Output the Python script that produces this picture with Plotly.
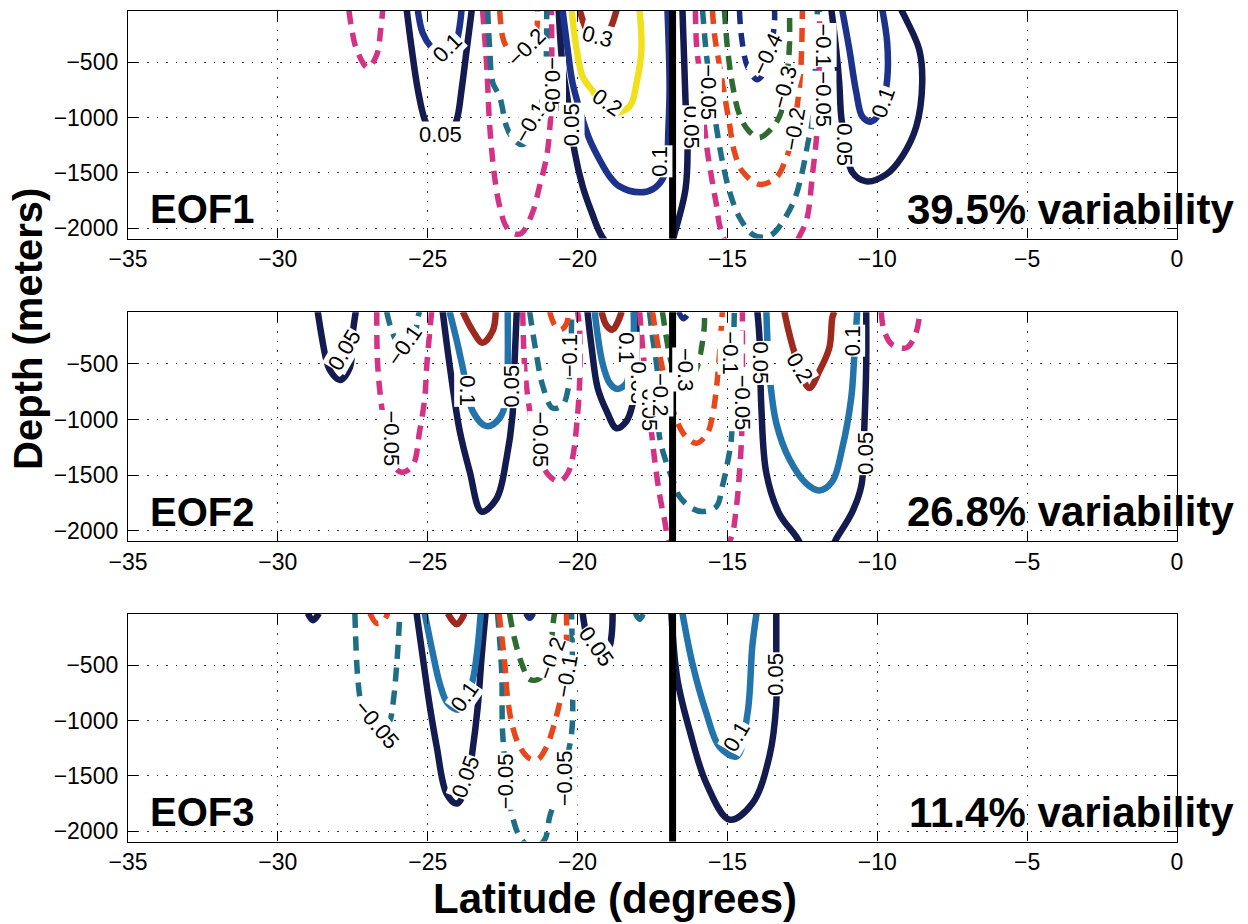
import plotly.graph_objects as go

# ---------------------------------------------------------------- axes ----
lat_ticks = [-35, -30, -25, -20, -15, -10, -5, 0]
depth_ticks = [-500, -1000, -1500, -2000]
lat_range = [-35, 0]
depth_range = [-2093, -36]
front_lat = -16.83  # reference latitude marked in every panel

eof_names = ["EOF1", "EOF2", "EOF3"]
variability = [39.5, 26.8, 11.4]

# ------------------------------------------------------ EOF1 contours ----
eof1_a_lat = [-27.63, -27.53, -27.37, -27.0, -26.7, -26.57, -26.5]
eof1_a_dep = [-30, -209, -389, -551, -434, -209, -30]
eof1_b_lat = [-25.70, -25.53, -25.33, -25.1, -24.83, -24.57, -24.3, -24.03, -23.87, -23.7, -23.53]
eof1_b_dep = [-30, -389, -749, -1020, -1163, -1208, -1172, -1020, -749, -389, -30]
eof1_c_lat = [-25.33, -25.17, -24.87, -24.53, -24.2, -24.0, -23.87]
eof1_c_dep = [-30, -236, -371, -452, -407, -272, -30]
eof1_d_lat = [-23.17, -23.03, -22.93, -22.77, -22.6, -22.37, -22.1, -21.87, -21.5, -21.27, -21.03, -20.93, -20.87, -20.87]
eof1_d_dep = [-30, -542, -1083, -1533, -1803, -1990, -2050, -2045, -1856, -1622, -1352, -1109, -839, -30]
eof1_e_lat = [-23.0, -22.93, -22.83, -22.6, -22.37, -22.2, -21.87, -21.5, -21.17, -21.07, -21.03]
eof1_e_dep = [-30, -389, -686, -812, -1083, -1172, -1244, -1154, -839, -632, -30]
eof1_f_lat = [-22.6, -22.5, -22.37, -21.93, -21.53, -21.37, -21.33]
eof1_f_dep = [-30, -274, -364, -500, -380, -220, -30]
eof1_g_lat = [-20.63, -20.5, -20.33, -20.1, -19.83, -19.53, -19.17, -18.4, -17.6, -17.0, -16.77, -16.4, -16.33, -16.4, -16.5]
eof1_g_dep = [-30, -542, -839, -1307, -1622, -1856, -2081, -2300, -2350, -2250, -2054, -1649, -1289, -839, -30]
eof1_h_lat = [-20.5, -20.33, -20.17, -19.93, -19.6, -19.27, -18.93, -18.6, -17.93, -17.5, -17.17, -17.03, -16.97, -16.93, -17.0]
eof1_h_dep = [-30, -389, -686, -929, -1199, -1379, -1532, -1622, -1676, -1649, -1559, -1424, -1109, -731, -30]
eof1_i_lat = [-20.2, -20.03, -19.83, -19.53, -18.93, -18.27, -18.03, -17.87, -17.93]
eof1_i_dep = [-30, -389, -632, -749, -957, -902, -686, -389, -30]
eof1_j_lat = [-19.93, -19.7, -19.33, -18.93, -18.7]
eof1_j_dep = [-30, -209, -344, -209, -30]
eof1_k_lat = [-16.07, -16.03, -15.93, -15.7, -15.53, -15.37, -15.17, -13.93, -12.53, -12.33, -12.17, -12.0, -11.93, -11.93]
eof1_k_dep = [-30, -353, -596, -1244, -1541, -1784, -2054, -2600, -2036, -1892, -1532, -1083, -326, -30]
eof1_l_lat = [-15.83, -15.7, -15.53, -15.2, -14.93, -14.6, -14.17, -13.83, -13.5, -12.83, -12.5, -12.33, -12.17, -12.03, -12.0]
eof1_l_dep = [-30, -434, -794, -1352, -1667, -1901, -2054, -2081, -2054, -1784, -1487, -1244, -1037, -281, -30]
eof1_m_lat = [-15.5, -15.43, -15.27, -15.1, -14.93, -14.77, -14.5, -13.93, -13.37, -13.03, -12.83, -12.7, -12.6, -12.53, -12.5]
eof1_m_dep = [-30, -254, -524, -794, -1064, -1307, -1487, -1604, -1541, -1361, -1181, -947, -731, -434, -30]
eof1_n_lat = [-15.1, -15.0, -14.83, -14.6, -14.27, -13.93, -13.5, -13.2, -13.0, -12.93, -12.93]
eof1_n_dep = [-30, -371, -704, -974, -1127, -1181, -1091, -947, -587, -344, -30]
eof1_o_lat = [-14.6, -14.53, -14.33, -14.0, -13.67, -13.43, -13.43]
eof1_o_dep = [-30, -272, -542, -659, -524, -137, -30]
eof1_p_lat = [-11.53, -11.37, -11.27, -11.2, -11.03, -10.83, -10.37, -9.7, -9.17, -8.7, -8.5, -8.6, -9.03, -9.2]
eof1_p_dep = [-30, -389, -686, -1001, -1289, -1496, -1577, -1514, -1352, -1083, -686, -389, -119, -30]
eof1_q_lat = [-11.17, -10.93, -10.7, -10.5, -10.2, -9.87, -9.67, -9.67, -9.83]
eof1_q_dep = [-30, -389, -776, -992, -1037, -929, -659, -326, -30]

# ------------------------------------------------------ EOF2 contours ----
eof2_a_lat = [-28.67, -28.53, -28.4, -28.27, -27.93, -27.6, -27.5, -27.4]
eof2_a_dep = [-30, -265, -446, -554, -645, -536, -220, -30]
eof2_b_lat = [-26.7, -26.67, -26.53, -26.37, -26.2, -25.87, -25.5, -25.27, -25.1, -25.03, -24.93, -24.87]
eof2_b_dep = [-30, -509, -898, -1169, -1395, -1476, -1413, -1106, -808, -509, -202, -30]
eof2_c_lat = [-26.37, -26.2, -25.93, -25.67, -25.43, -25.33, -25.27]
eof2_c_dep = [-30, -202, -355, -428, -265, -84, -30]
eof2_d_lat = [-24.5, -24.27, -23.93, -23.6, -23.2, -22.7, -22.37, -22.17, -22.1, -22.03]
eof2_d_dep = [-30, -509, -1106, -1467, -1829, -1711, -1350, -961, -473, -30]
eof2_e_lat = [-24.27, -24.03, -23.83, -23.5, -23.03, -22.6, -22.37, -22.33, -22.33]
eof2_e_dep = [-30, -292, -536, -925, -1060, -988, -807, -509, -30]
eof2_f_lat = [-23.83, -23.5, -23.17, -22.83, -22.73]
eof2_f_dep = [-30, -202, -310, -202, -30]
eof2_g_lat = [-21.83, -21.77, -21.67, -21.5, -21.27, -20.93, -20.6, -20.33, -20.17, -20.03, -19.93, -19.93, -20.0]
eof2_g_dep = [-30, -509, -780, -1079, -1350, -1512, -1558, -1485, -1350, -1051, -654, -202, -30]
eof2_h_lat = [-21.6, -21.37, -21.17, -20.83, -20.5, -20.33, -20.23, -20.2]
eof2_h_dep = [-30, -419, -690, -898, -871, -744, -446, -30]
eof2_i_lat = [-20.93, -20.77, -20.57, -20.37, -20.3]
eof2_i_dep = [-30, -147, -193, -138, -30]
eof2_j_lat = [-19.67, -19.53, -19.33, -19.03, -18.7, -18.37, -18.17, -18.07, -18.03, -18.07]
eof2_j_dep = [-30, -355, -717, -925, -1079, -1016, -871, -627, -274, -30]
eof2_k_lat = [-19.43, -19.17, -18.93, -18.67, -18.37, -18.27, -18.13, -18.13]
eof2_k_dep = [-30, -491, -672, -726, -672, -518, -247, -30]
eof2_l_lat = [-19.2, -19.03, -18.83, -18.67, -18.53]
eof2_l_dep = [-30, -157, -193, -130, -30]
eof2_m_lat = [-17.93, -17.7, -17.53, -17.43, -17.27, -17.1, -16.93, -15.93, -14.93, -14.7, -14.6, -14.53, -14.5, -14.5, -14.5]
eof2_m_dep = [-30, -726, -1124, -1359, -1666, -1901, -2100, -2435, -2100, -1784, -1485, -1178, -880, -428, -30]
eof2_n_lat = [-17.6, -17.5, -17.33, -17.27, -17.03, -16.83, -16.6, -16.17, -15.83, -15.37, -15.17, -15.0, -14.87, -14.83, -14.8, -14.77]
eof2_n_dep = [-30, -256, -590, -1151, -1395, -1540, -1694, -1802, -1829, -1784, -1603, -1395, -1178, -880, -428, -30]
eof2_o_lat = [-17.5, -17.37, -17.2, -17.0, -16.7, -16.37, -16.03, -15.67, -15.5, -15.37, -15.27, -15.17]
eof2_o_dep = [-30, -256, -500, -735, -1006, -1160, -1214, -1124, -970, -726, -428, -30]
eof2_p_lat = [-17.17, -17.03, -16.87, -16.6, -16.27, -16.03, -15.87, -15.77, -15.77]
eof2_p_dep = [-30, -274, -491, -672, -672, -545, -364, -156, -30]
eof2_q_lat = [-16.63, -16.47, -16.27]
eof2_q_dep = [-30, -93, -30]
eof2_r_lat = [-14.0, -13.93, -13.87, -13.7, -13.27, -12.7, -12.0, -11.33, -10.83, -10.53, -10.43, -10.37, -10.37]
eof2_r_dep = [-30, -274, -880, -1486, -1848, -2056, -2345, -2056, -1829, -1594, -1051, -509, -30]
eof2_s_lat = [-13.7, -13.6, -13.37, -12.93, -12.37, -11.93, -11.5, -11.17, -10.87, -10.77, -10.67]
eof2_s_dep = [-30, -581, -1033, -1359, -1576, -1639, -1558, -1259, -807, -446, -30]
eof2_t_lat = [-13.1, -13.0, -12.83, -12.6, -12.27, -11.93, -11.6, -11.5, -11.43]
eof2_t_dep = [-30, -156, -337, -536, -717, -563, -355, -84, -30]
eof2_u_lat = [-9.87, -9.77, -9.5, -9.03, -8.77, -8.6, -8.6]
eof2_u_dep = [-30, -202, -328, -355, -265, -84, -30]

# ------------------------------------------------------ EOF3 contours ----
eof3_a_lat = [-29.0, -28.83, -28.63]
eof3_a_dep = [-30, -92, -30]
eof3_b_lat = [-27.43, -27.33, -27.2, -26.93, -26.6, -26.27, -26.17, -26.03, -25.93]
eof3_b_dep = [-30, -627, -871, -1053, -1116, -1007, -871, -482, -30]
eof3_c_lat = [-26.93, -26.7, -26.5, -26.33]
eof3_c_dep = [-30, -120, -102, -30]
eof3_d_lat = [-25.37, -25.17, -24.93, -24.7, -24.37, -24.03, -23.7, -23.5, -23.33, -23.2, -23.07]
eof3_d_dep = [-30, -418, -871, -1234, -1660, -1750, -1596, -1261, -871, -418, -30]
eof3_e_lat = [-25.1, -24.83, -24.6, -24.33, -23.93, -23.53, -23.37, -23.23]
eof3_e_dep = [-30, -391, -663, -844, -899, -663, -418, -30]
eof3_f_lat = [-24.33, -24.03, -23.77]
eof3_f_dep = [-30, -129, -30]
eof3_g_lat = [-22.67, -22.53, -22.5, -22.33, -22.17, -21.93, -21.5, -21.1, -20.93, -20.67, -20.43, -20.2, -20.17, -20.2]
eof3_g_dep = [-30, -572, -1116, -1596, -1868, -2049, -2158, -2077, -1868, -1660, -1415, -1116, -572, -30]
eof3_h_lat = [-22.62, -22.43, -22.33, -22.17, -21.93, -21.6, -21.33, -21.03, -20.83, -20.6, -20.43, -20.37, -20.37]
eof3_h_dep = [-30, -482, -808, -1053, -1234, -1343, -1352, -1234, -1080, -844, -599, -237, -30]
eof3_i_lat = [-22.27, -22.1, -21.83, -21.6, -21.27, -20.93, -20.83, -20.77]
eof3_i_dep = [-30, -264, -509, -627, -618, -418, -147, -30]
eof3_j_lat = [-21.73, -21.6, -21.47]
eof3_j_dep = [-30, -75, -30]
eof3_k_lat = [-19.83, -19.7, -19.53, -19.27, -18.93, -18.83]
eof3_k_dep = [-30, -237, -373, -491, -328, -30]
eof3_l_lat = [-18.07, -17.93, -17.8]
eof3_l_dep = [-30, -84, -30]
eof3_m_lat = [-16.5, -16.17, -15.7, -15.27, -14.7, -14.33, -14.17, -14.03]
eof3_m_dep = [-30, -482, -935, -1234, -1324, -935, -328, -30]
eof3_n_lat = [-16.87, -16.67, -16.27, -15.7, -14.93, -14.17, -13.6, -13.37, -13.37, -13.37]
eof3_n_dep = [-30, -627, -1080, -1569, -1895, -1750, -1324, -844, -328, -30]

# ------------------------------------------------------ contour labels ----
eof1_label_level = [0.05, 0.1, -0.2, -0.1, -0.05, 0.05, 0.3, 0.2, 0.1, 0.05, -0.05, -0.4, -0.3, -0.2, -0.1, -0.05, 0.05, 0.1]
eof1_label_lat = [-24.57, -24.33, -21.7, -21.57, -20.83, -20.2, -19.33, -19.0, -17.27, -16.22, -15.63, -13.67, -13.1, -12.77, -11.8, -11.8, -11.1, -9.8]
eof1_label_dep = [-1155, -371, -371, -1046, -705, -1064, -273, -866, -1397, -1092, -768, -434, -731, -1109, -344, -839, -1244, -866]

eof2_label_level = [0.05, -0.1, -0.05, 0.1, 0.05, -0.05, -0.1, 0.1, 0.05, -0.05, -0.2, -0.3, -0.1, -0.05, 0.05, 0.2, 0.1, 0.05]
eof2_label_lat = [-27.77, -25.77, -26.2, -23.7, -22.2, -21.23, -20.27, -18.37, -18.0, -17.6, -17.25, -16.42, -14.9, -14.5, -13.9, -12.6, -10.83, -10.4]
eof2_label_dep = [-373, -337, -1169, -744, -699, -1178, -428, -355, -672, -853, -780, -554, -400, -853, -491, -536, -292, -1305]

eof3_label_level = [-0.05, 0.1, 0.05, -0.05, -0.2, -0.1, -0.05, 0.05, 0.1, 0.05]
eof3_label_lat = [-26.7, -23.77, -23.73, -22.4, -20.87, -20.37, -20.43, -19.37, -14.7, -13.4]
eof3_label_dep = [-1035, -781, -1506, -1551, -437, -600, -1524, -328, -1143, -582]

# text orientation of each label (degrees, clockwise)
eof1_label_rot = [0, -45, -45, -60, 90, -90, 15, 35, -90, 90, 90, -65, -75, -80, 90, 90, 90, -70]
eof2_label_rot = [-60, -55, 90, 90, -90, 90, -90, 90, 90, 90, 90, 90, 90, 90, 90, 60, -90, -90]
eof3_label_rot = [50, -55, -70, -90, -70, -80, -90, 55, -60, -90]

# ------------------------------------------------------------- styling ----
NAVY = "#141b4e"
BLUE = "#1d328a"
STEEL = "#2274aa"
YELLOW = "#f0e11c"
DKRED = "#9e2a1f"
DKBLUE = "#1b2b7d"
GREEN = "#2e6b30"
RED = "#e8471c"
TEAL = "#1f6e86"
MAGENTA = "#d43284"

panel_colours = [
    {-0.4: DKBLUE, -0.3: GREEN, -0.2: RED, -0.1: TEAL, -0.05: MAGENTA,
     0.05: NAVY, 0.1: BLUE, 0.2: YELLOW, 0.3: DKRED},
    {-0.4: DKBLUE, -0.3: GREEN, -0.2: RED, -0.1: TEAL, -0.05: MAGENTA,
     0.05: NAVY, 0.1: STEEL, 0.2: DKRED},
    {-0.3: DKBLUE, -0.2: GREEN, -0.1: RED, -0.05: TEAL,
     0.05: NAVY, 0.1: STEEL, 0.2: DKRED},
]

panel_curves = [
    [(-0.05, eof1_a_lat, eof1_a_dep), (0.05, eof1_b_lat, eof1_b_dep), (0.1, eof1_c_lat, eof1_c_dep),
     (-0.05, eof1_d_lat, eof1_d_dep), (-0.1, eof1_e_lat, eof1_e_dep), (-0.2, eof1_f_lat, eof1_f_dep),
     (0.05, eof1_g_lat, eof1_g_dep), (0.1, eof1_h_lat, eof1_h_dep), (0.2, eof1_i_lat, eof1_i_dep),
     (0.3, eof1_j_lat, eof1_j_dep), (-0.05, eof1_k_lat, eof1_k_dep), (-0.1, eof1_l_lat, eof1_l_dep),
     (-0.2, eof1_m_lat, eof1_m_dep), (-0.3, eof1_n_lat, eof1_n_dep), (-0.4, eof1_o_lat, eof1_o_dep),
     (0.05, eof1_p_lat, eof1_p_dep), (0.1, eof1_q_lat, eof1_q_dep)],
    [(0.05, eof2_a_lat, eof2_a_dep), (-0.05, eof2_b_lat, eof2_b_dep), (-0.1, eof2_c_lat, eof2_c_dep),
     (0.05, eof2_d_lat, eof2_d_dep), (0.1, eof2_e_lat, eof2_e_dep), (0.2, eof2_f_lat, eof2_f_dep),
     (-0.05, eof2_g_lat, eof2_g_dep), (-0.1, eof2_h_lat, eof2_h_dep), (-0.2, eof2_i_lat, eof2_i_dep),
     (0.05, eof2_j_lat, eof2_j_dep), (0.1, eof2_k_lat, eof2_k_dep), (0.2, eof2_l_lat, eof2_l_dep),
     (-0.05, eof2_m_lat, eof2_m_dep), (-0.1, eof2_n_lat, eof2_n_dep), (-0.2, eof2_o_lat, eof2_o_dep),
     (-0.3, eof2_p_lat, eof2_p_dep), (-0.4, eof2_q_lat, eof2_q_dep), (0.05, eof2_r_lat, eof2_r_dep),
     (0.1, eof2_s_lat, eof2_s_dep), (0.2, eof2_t_lat, eof2_t_dep), (-0.05, eof2_u_lat, eof2_u_dep)],
    [(0.05, eof3_a_lat, eof3_a_dep), (-0.05, eof3_b_lat, eof3_b_dep), (-0.1, eof3_c_lat, eof3_c_dep),
     (0.05, eof3_d_lat, eof3_d_dep), (0.1, eof3_e_lat, eof3_e_dep), (0.2, eof3_f_lat, eof3_f_dep),
     (-0.05, eof3_g_lat, eof3_g_dep), (-0.1, eof3_h_lat, eof3_h_dep), (-0.2, eof3_i_lat, eof3_i_dep),
     (-0.3, eof3_j_lat, eof3_j_dep), (0.05, eof3_k_lat, eof3_k_dep), (-0.05, eof3_l_lat, eof3_l_dep),
     (0.1, eof3_m_lat, eof3_m_dep), (0.05, eof3_n_lat, eof3_n_dep)],
]

panel_labels = [
    (eof1_label_level, eof1_label_lat, eof1_label_dep, eof1_label_rot),
    (eof2_label_level, eof2_label_lat, eof2_label_dep, eof2_label_rot),
    (eof3_label_level, eof3_label_lat, eof3_label_dep, eof3_label_rot),
]

FONT = "Liberation Sans, Arial, Helvetica, sans-serif"
W, H = 1248, 924
ML, MR = 128, 71
panel_domains = [[0.7410, 0.9884], [0.4127, 0.6609], [0.0863, 0.3333]]


def fmt_level(v):
    s = f"{abs(v):g}"
    return ("\u2212" + s) if v < 0 else s


def fmt_tick(v):
    return ("\u2212" + str(abs(v))) if v < 0 else str(v)


fig = go.Figure()
annotations = []

for p in range(3):
    xs = "x" if p == 0 else f"x{p + 1}"
    ys = "y" if p == 0 else f"y{p + 1}"
    cmap = panel_colours[p]

    for level, lats, deps in panel_curves[p]:
        dashed = level < 0
        fig.add_trace(go.Scatter(
            x=lats, y=deps, xaxis=xs, yaxis=ys, mode="lines",
            line=dict(color=cmap[level], width=5.5 if dashed else 6.5,
                      dash="14px,9px" if dashed else "solid",
                      shape="spline", smoothing=1.0),
            hoverinfo="skip", showlegend=False))

    # vertical marker latitude
    fig.add_trace(go.Scatter(
        x=[front_lat, front_lat], y=[-2300, 0], xaxis=xs, yaxis=ys, mode="lines",
        line=dict(color="black", width=7), hoverinfo="skip", showlegend=False))

    levels, lats, deps, rots = panel_labels[p]
    for v, la, de, rot in zip(levels, lats, deps, rots):
        annotations.append(dict(
            x=la, y=de, xref=xs, yref=ys, text=fmt_level(v), showarrow=False,
            textangle=rot, bgcolor="white", borderpad=0,
            font=dict(family=FONT, size=22, color="black")))

    annotations.append(dict(
        x=20 / (W - ML - MR), y=-1830, xref=f"{xs} domain", yref=ys,
        xanchor="left", yanchor="middle", showarrow=False,
        text=f"<b>{eof_names[p]}</b>",
        font=dict(family=FONT, size=40, color="black")))
    annotations.append(dict(
        x=(1236 - ML) / (W - ML - MR), y=-1830, xref=f"{xs} domain", yref=ys,
        xanchor="right", yanchor="middle", showarrow=False,
        text=f"<b>{variability[p]:.1f}% variability</b>",
        font=dict(family=FONT, size=42, color="black")))

annotations.append(dict(
    x=(28 - ML) / (W - ML - MR), y=1 - 330 / H, xref="paper", yref="paper",
    text="<b>Depth (meters)</b>", textangle=-90, showarrow=False,
    xanchor="center", yanchor="middle",
    font=dict(family=FONT, size=40, color="black")))
annotations.append(dict(
    x=(615 - ML) / (W - ML - MR), y=1 - 901 / H, xref="paper", yref="paper",
    text="<b>Latitude (degrees)</b>", showarrow=False,
    xanchor="center", yanchor="middle", borderpad=0,
    font=dict(family=FONT, size=42, color="black")))

axis_common = dict(
    showline=True, linecolor="black", linewidth=1.3, mirror="ticks",
    ticks="inside", ticklen=10, tickwidth=1.3, tickcolor="black",
    showgrid=True, gridcolor="#333333", gridwidth=1.3, griddash="1.5px,8px",
    zeroline=False, tickfont=dict(family=FONT, size=23, color="black"),
)

layout = dict(
    width=W, height=H, margin=dict(l=ML, r=MR, t=0, b=0),
    paper_bgcolor="white", plot_bgcolor="white", showlegend=False,
    annotations=annotations,
)
for p in range(3):
    xk = "xaxis" if p == 0 else f"xaxis{p + 1}"
    yk = "yaxis" if p == 0 else f"yaxis{p + 1}"
    ya = "y" if p == 0 else f"y{p + 1}"
    xa = "x" if p == 0 else f"x{p + 1}"
    layout[xk] = dict(axis_common, domain=[0, 1], anchor=ya, range=lat_range,
                      tickvals=lat_ticks, ticktext=[fmt_tick(v) for v in lat_ticks],
                      ticklabelstandoff=0)
    layout[yk] = dict(axis_common, domain=panel_domains[p], anchor=xa, range=depth_range,
                      tickvals=depth_ticks, ticktext=[fmt_tick(v) for v in depth_ticks],
                      ticklabelstandoff=4)

fig.update_layout(**layout)
fig.write_html("out.html")
